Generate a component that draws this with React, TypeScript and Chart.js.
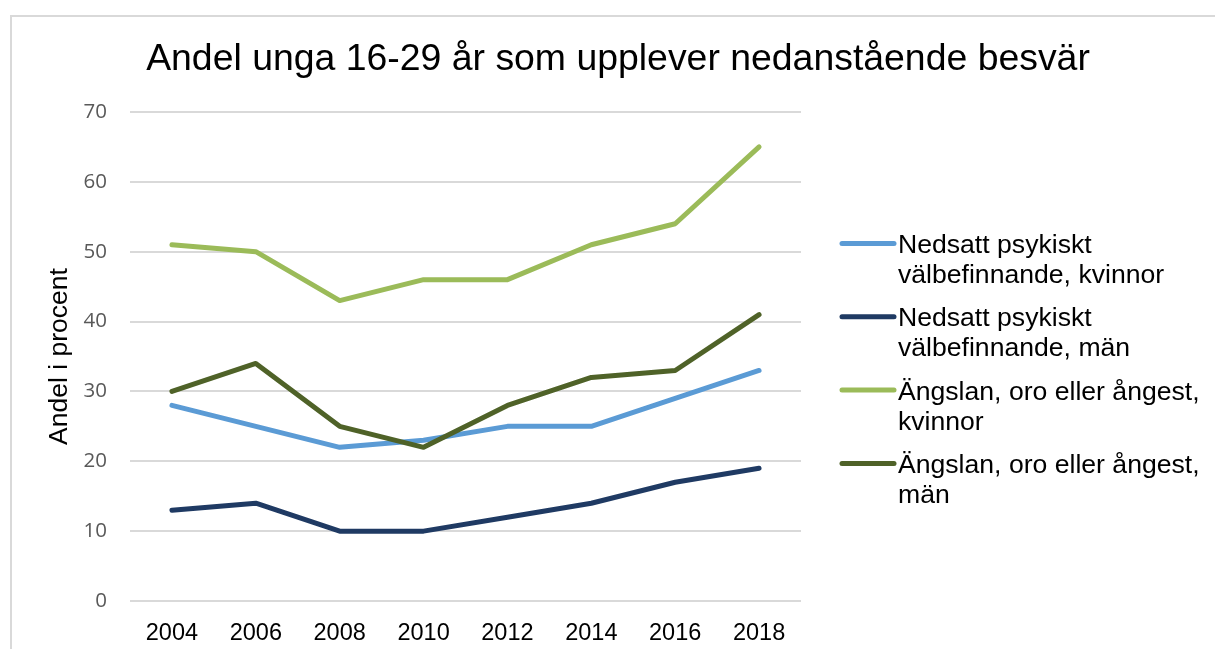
import React, { useEffect, useRef } from "react";
import { Chart, registerables } from "chart.js";

Chart.register(...registerables);

// ---- Data ----
const years = ["2004", "2006", "2008", "2010", "2012", "2014", "2016", "2018"];
const nedsattKvinnor = [28, 25, 22, 23, 25, 25, 29, 33];
const nedsattMan = [13, 14, 10, 10, 12, 14, 17, 19];
const angslanKvinnor = [51, 50, 43, 46, 46, 51, 54, 65];
const angslanMan = [30, 34, 25, 22, 28, 32, 33, 41];

const seriesNames: string[][] = [
  ["Nedsatt psykiskt", "välbefinnande, kvinnor"],
  ["Nedsatt psykiskt", "välbefinnande, män"],
  ["Ängslan, oro eller ångest,", "kvinnor"],
  ["Ängslan, oro eller ångest,", "män"],
];
const seriesColors = ["#5B9BD5", "#1F3A63", "#9BBB59", "#4F6228"];

const titleText = "Andel unga 16-29 år som upplever nedanstående besvär";
const yAxisTitle = "Andel i procent";
const yMin = 0;
const yMax = 70;
const yStep = 10;

const FONT = "'Liberation Sans', Arial, sans-serif";

const titleAndLegendPlugin = {
  id: "titleAndLegend",
  afterDraw(chart: any) {
    const ctx = chart.ctx;
    ctx.save();
    // Title
    ctx.fillStyle = "#000000";
    ctx.font = `37.4px ${FONT}`;
    ctx.textAlign = "center";
    ctx.textBaseline = "alphabetic";
    ctx.fillText(titleText, 618, 70);

    // Legend
    const baseStart = 253;
    const entryGap = 73.3;
    const lineGap = 30;
    chart.data.datasets.forEach((ds: any, i: number) => {
      const base = baseStart + i * entryGap;
      ctx.strokeStyle = ds.borderColor;
      ctx.lineWidth = 5;
      ctx.lineCap = "round";
      ctx.beginPath();
      ctx.moveTo(842, base - 9.5);
      ctx.lineTo(894, base - 9.5);
      ctx.stroke();
      ctx.fillStyle = "#000000";
      ctx.font = `26.6px ${FONT}`;
      ctx.textAlign = "left";
      ctx.textBaseline = "alphabetic";
      (ds.legendLines as string[]).forEach((t: string, j: number) => {
        ctx.fillText(t, 898, base + j * lineGap);
      });
    });
    ctx.restore();
  },
};

export default function App() {
  const canvasRef = useRef<HTMLCanvasElement | null>(null);

  useEffect(() => {
    document.body.style.margin = "0";
    const canvas = canvasRef.current;
    if (!canvas) return;
    const seriesValues = [nedsattKvinnor, nedsattMan, angslanKvinnor, angslanMan];
    const chart = new Chart(canvas, {
      type: "line",
      data: {
        labels: years,
        datasets: seriesValues.map((vals, i) => ({
          label: seriesNames[i].join(" "),
          legendLines: seriesNames[i],
          data: vals,
          borderColor: seriesColors[i],
          backgroundColor: seriesColors[i],
          borderWidth: 5,
          borderCapStyle: "round",
          borderJoinStyle: "round",
          pointRadius: 0,
          pointHoverRadius: 0,
          tension: 0,
          fill: false,
          order: seriesValues.length - i,
        })) as any,
      },
      options: {
        animation: false,
        responsive: false,
        maintainAspectRatio: false,
        devicePixelRatio: 1,
        layout: { padding: { left: 0, top: 112, right: 414, bottom: 0 } },
        plugins: {
          legend: { display: false },
          title: { display: false },
          tooltip: { enabled: false },
        },
        scales: {
          x: {
            offset: true,
            grid: { display: false, drawTicks: false },
            border: { display: false },
            ticks: {
              color: "#000000",
              font: { family: FONT, size: 23.5 },
              padding: 18,
              maxRotation: 0,
              autoSkip: false,
            },
            afterFit: (scale: any) => {
              scale.height = 48;
            },
          },
          y: {
            min: yMin,
            max: yMax,
            grid: { color: "#d9d9d9", lineWidth: 2, drawTicks: false },
            border: { display: false },
            ticks: {
              stepSize: yStep,
              color: "#595959",
              font: { family: "'Open Sans', sans-serif", size: 20.5 },
              padding: 23,
            },
            title: {
              display: true,
              text: yAxisTitle,
              color: "#000000",
              font: { family: FONT, size: 26.5 },
              padding: { top: 44, bottom: 0 },
            },
            afterFit: (scale: any) => {
              scale.width = 130;
            },
          },
        },
      },
      plugins: [titleAndLegendPlugin],
    } as any);
    return () => chart.destroy();
  }, []);

  return (
    <div style={{ position: "relative", width: 1215, height: 649, overflow: "hidden", background: "#ffffff" }}>
      <canvas ref={canvasRef} width={1215} height={649} style={{ position: "absolute", left: 0, top: 0, width: 1215, height: 649 }} />
      <div
        style={{
          position: "absolute",
          left: 10,
          top: 15,
          width: 1400,
          height: 800,
          borderLeft: "2px solid #d9d9d9",
          borderTop: "2px solid #d9d9d9",
          pointerEvents: "none",
        }}
      />
    </div>
  );
}
